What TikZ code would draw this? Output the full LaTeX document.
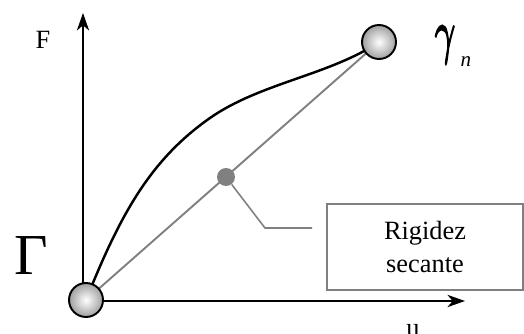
\documentclass[tikz,border=0pt]{standalone}
\usepackage{fontspec}
\setmainfont{Liberation Serif}
\newfontfamily\gamfont[FakeBold=3]{Latin Modern Math}
\usepackage{tikz}
\usetikzlibrary{positioning, arrows.meta, calc}

\begin{document}
\begin{tikzpicture}[x=0.02cm, y=-0.02cm,
  ball/.style={circle, draw, line width=1.1pt, minimum size=0.68cm, inner sep=0pt, shading=radial, inner color=white, outer color=gray!75},
  dot/.style={circle, fill=gray, minimum size=0.36cm, inner sep=0pt},
  axis/.style={-{Stealth[length=10pt, width=7pt, inset=3pt]}, line width=1pt},
  secant/.style={draw=gray, line width=1.1pt},
  lbl/.style={font=\fontsize{15}{15}\selectfont, inner sep=0pt}
]
  \useasboundingbox (0,0) rectangle (524,334);

  \coordinate (o)    at (83,301);
  \coordinate (ytop) at (83,13);
  \coordinate (xend) at (465,301);
  \coordinate (knee) at (265,228);
  \coordinate (tail) at (312,228);

  % ejes
  \draw[axis] (o) -- (ytop);
  \draw[axis] (o) -- (xend);

  \node[lbl] (F) at (43,40) {F};
  \node[lbl] (u) at (413,331) {u};

  % curva y secante
  \draw[line width=1.4pt] (86,300) .. controls (120,215) and (150,160) .. (210,118)
    .. controls (260,83) and (330,75) .. (379,42);
  \draw[secant] (86,300) -- (379,42);

  \node[ball] (orig) at (86,300) {};
  \node[ball] (fin)  at (379,42) {};
  \node[dot]  (pto)  at (226,177) {};

  \node[draw=gray, line width=0.7pt, minimum width=3.92cm, minimum height=1.72cm, align=center, lbl] (rig) at (425,247) {Rigidez\\[4pt]secante};
  \draw[secant, line width=0.9pt] (pto) -- (knee) -- (tail);

  \node[font=\fontsize{33}{33}\selectfont, inner sep=0pt] (gam) at (31,256) {Γ};
  \node[font=\fontsize{34}{34}\gamfont, inner sep=0pt, xscale=0.6, transform shape] (gn) at (444,45) {𝛾};
  \node[font=\fontsize{12}{12}\selectfont\itshape, inner sep=0pt] (n) at (466,62) {n};
\end{tikzpicture}
\end{document}
